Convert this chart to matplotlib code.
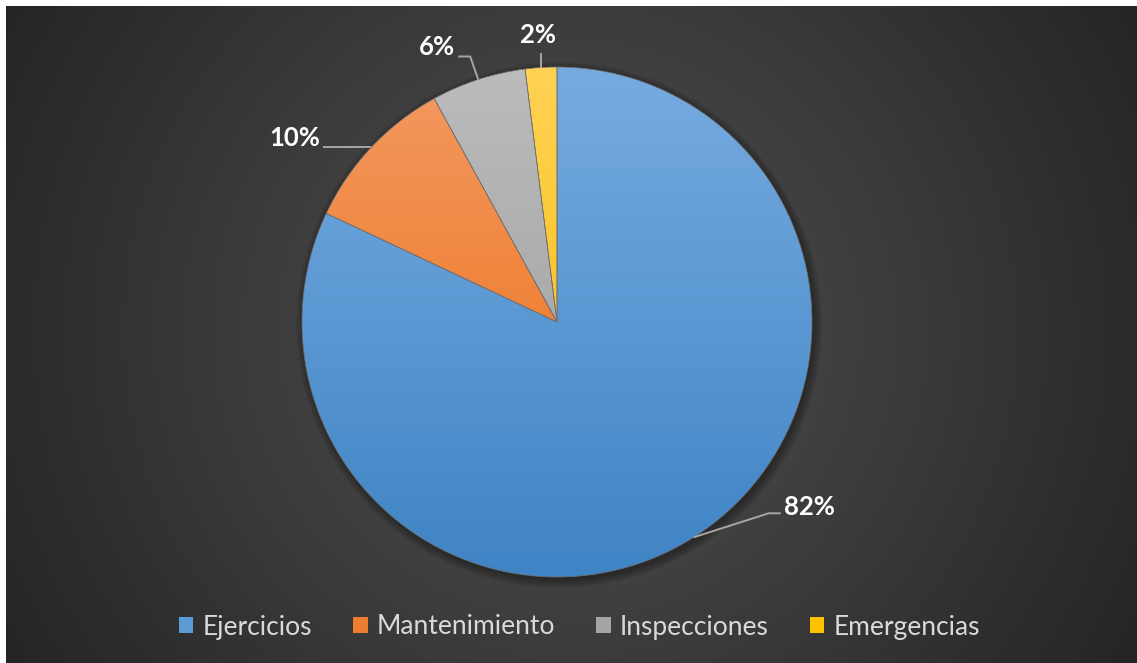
import numpy as np
import matplotlib
matplotlib.use("Agg")
import matplotlib.pyplot as plt
from matplotlib.patches import Patch, Circle
from matplotlib.colors import to_rgb

# ---- data ----
categories = ["Ejercicios", "Mantenimiento", "Inspecciones", "Emergencias"]
values = [82, 10, 6, 2]
labels = [f"{v}%" for v in values]

# ---- style ----
light_cols = ["#76abe0", "#f39a62", "#bcbcbc", "#ffd254"]
dark_cols = ["#3f84c5", "#ec6a0e", "#989898", "#f7b900"]
legend_cols = ["#5b9bd5", "#ed7d31", "#a5a5a5", "#ffc000"]

W, H = 1137, 663
def py(y):
    return H - y

plt.rcParams['font.family'] = ['Lato', 'DejaVu Sans']
fig = plt.figure(figsize=(W / 100, H / 100), dpi=100)
fig.patch.set_facecolor("white")
ax = fig.add_axes([0, 0, 1, 1])

# background radial gradient
cx, cy = 570, 330
xs = np.linspace(6, W, 400)
ys = np.linspace(6, H, 240)
X, Y = np.meshgrid(xs, ys)
r = np.sqrt((X - cx) ** 2 + (Y - cy) ** 2) / 650.0
r = np.clip(r, 0, 1)
c0 = np.array(to_rgb("#525252"))
c1 = np.array(to_rgb("#252525"))
bg = c0[None, None, :] * (1 - r[..., None]) + c1[None, None, :] * r[..., None]
ax.imshow(bg, extent=[6, W, py(H), py(6)], origin="upper", zorder=0, aspect="auto")

# pie
pcx, pcy, R = 557, 322, 255
for i in range(10):
    ax.add_patch(Circle((pcx + 2, py(pcy) - 3), R + i * 0.9, facecolor="black",
                        edgecolor="none", alpha=0.035, zorder=1))

wedges, _ = ax.pie(values, startangle=90, counterclock=False, center=(pcx, py(pcy)),
                   radius=R, colors=legend_cols,
                   wedgeprops=dict(edgecolor="#6f6f6f", linewidth=0.5, zorder=3))

grad_t = np.linspace(0, 1, 256)[:, None]
for w, lc, dc in zip(wedges, light_cols, dark_cols):
    a = np.array(to_rgb(lc)); b = np.array(to_rgb(dc))
    img = a[None, None, :] * (1 - grad_t[..., None]) + b[None, None, :] * grad_t[..., None]
    img = np.repeat(img, 2, axis=1)
    im = ax.imshow(img, extent=[pcx - R, pcx + R, py(pcy + R), py(pcy - R)],
                   origin="upper", aspect="auto", zorder=2)
    im.set_clip_path(w)
    w.set_facecolor("none")

# labels with leader lines
cum = np.cumsum([0] + values[:-1])
total = float(sum(values))
layout = [
    dict(pts=[(75, -24), (87, -24)], txt=(90, -30), ha="left"),
    dict(pts=[(-48, 0)], txt=(-51, -9), ha="right"),
    dict(pts=[(-8, -23), (-20, -23)], txt=(-23, -32), ha="right"),
    dict(pts=[(0, -15)], txt=(-3, -33), ha="center"),
]
for v, c, lab, lay in zip(values, cum, labels, layout):
    mid = 90 - 360 * (c + v / 2) / total
    ax_x = pcx + R * np.cos(np.radians(mid))
    ax_y = pcy - R * np.sin(np.radians(mid))
    xs_l = [ax_x] + [ax_x + dx for dx, dy in lay["pts"]]
    ys_l = [ax_y] + [ax_y + dy for dx, dy in lay["pts"]]
    ax.plot(xs_l, [py(y) for y in ys_l], color="#a6a6a6", lw=1.4, zorder=4,
            solid_capstyle="butt")
    ax.text(ax_x + lay["txt"][0], py(ax_y + lay["txt"][1]), lab, color="white",
            fontsize=18.5, fontweight="bold", ha=lay["ha"], va="center", zorder=5)

ax.set_xlim(0, W)
ax.set_ylim(0, H)
ax.set_aspect("auto")
ax.axis("off")

handles = [Patch(facecolor=c, edgecolor="none") for c in legend_cols]
leg = ax.legend(handles, categories, ncol=4, loc="center",
                bbox_to_anchor=(579.5 / W, py(627) / H), frameon=False,
                fontsize=19, labelcolor="#d9d9d9", handlelength=0.55,
                handleheight=0.55, handletextpad=0.35, columnspacing=1.55)

fig.savefig("out.png", dpi=100, facecolor=fig.get_facecolor())
